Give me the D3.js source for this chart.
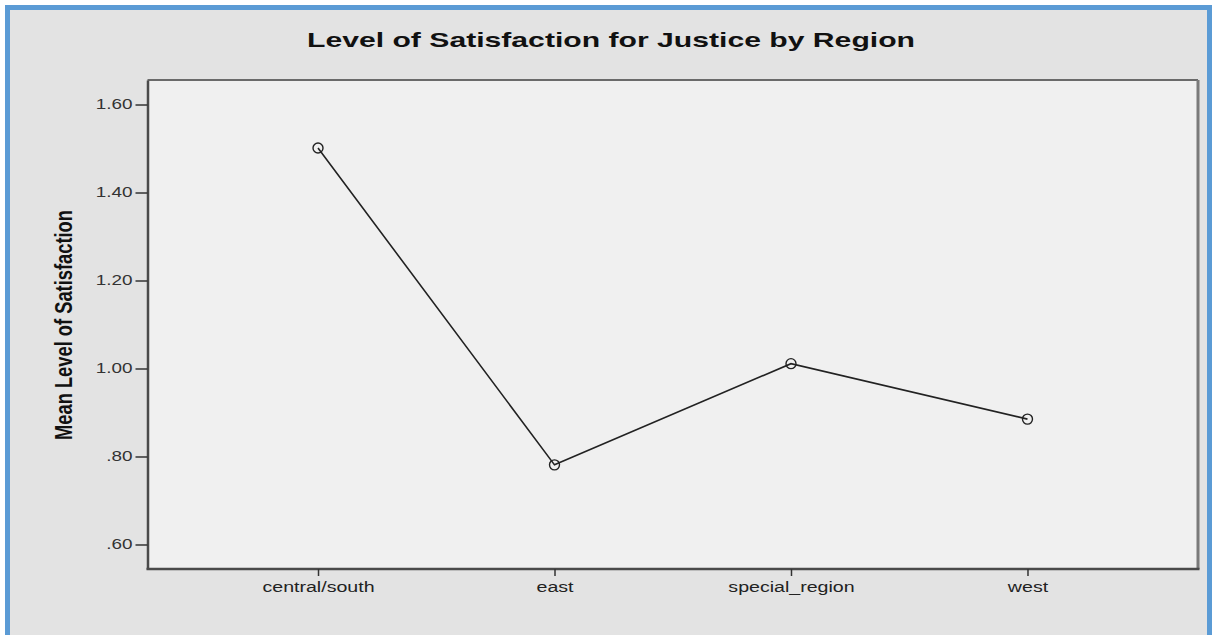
<!DOCTYPE html>
<html>
<head>
<meta charset="utf-8">
<script src="https://cdn.jsdelivr.net/npm/d3@7"></script>
<style>
  body { margin: 0; background: #fff; }
  svg { display: block; }
</style>
</head>
<body>
<svg id="chart" width="1212" height="635"></svg>
<script>
// data
var regions = ["central/south", "east", "special_region", "west"];
var meanSatisfaction = [1.501, 0.781, 1.011, 0.885];
var yTicks = [0.6, 0.8, 1.0, 1.2, 1.4, 1.6];
var yTickLabels = [".60", ".80", "1.00", "1.20", "1.40", "1.60"];

var svg = d3.select("#chart");

// blue frame + grey panel
svg.append("rect").attr("x", 7.5).attr("y", 7.5).attr("width", 1202).attr("height", 640)
  .attr("fill", "#e3e3e3").attr("stroke", "#5b9bd5").attr("stroke-width", 5);

var plot = { left: 147.5, top: 80, right: 1198, bottom: 569 };

var x = d3.scalePoint()
  .domain(regions)
  .range([plot.left, plot.right])
  .padding(0.721);

var y = d3.scaleLinear()
  .domain([0.5443, 1.6557])
  .range([plot.bottom, plot.top]);

// plot background
svg.append("rect")
  .attr("x", plot.left).attr("y", plot.top)
  .attr("width", plot.right - plot.left).attr("height", plot.bottom - plot.top)
  .attr("fill", "#f0f0f0");

// frame: top and right lighter, left and bottom darker
svg.append("line").attr("x1", plot.left).attr("x2", plot.right).attr("y1", plot.top).attr("y2", plot.top)
  .attr("stroke", "#6a6a6a").attr("stroke-width", 2);
svg.append("line").attr("x1", plot.right).attr("x2", plot.right).attr("y1", plot.top).attr("y2", plot.bottom)
  .attr("stroke", "#7a7a7a").attr("stroke-width", 3);

// y axis
var yAxis = d3.axisLeft(y)
  .tickValues(yTicks)
  .tickFormat(function(d, i) { return yTickLabels[i]; })
  .tickSize(12)
  .tickSizeOuter(0);

var yg = svg.append("g")
  .attr("transform", "translate(" + plot.left + ",0)")
  .call(yAxis);
yg.select(".domain").attr("stroke", "#4a4a4a").attr("stroke-width", 2.5);
yg.selectAll(".tick line").attr("stroke", "#333").attr("stroke-width", 1.5).attr("x2", -12);
// labels look horizontally stretched in the original
yg.selectAll(".tick text")
  .attr("x", 0)
  .attr("transform", "translate(-15,0) scale(1.35,1)")
  .attr("fill", "#333")
  .style("font-family", "'Liberation Sans', Arial, sans-serif")
  .style("font-size", "14px");

// x axis
var xAxis = d3.axisBottom(x)
  .tickSize(7)
  .tickPadding(6)
  .tickSizeOuter(0);

var xg = svg.append("g")
  .attr("transform", "translate(0," + plot.bottom + ")")
  .call(xAxis);
xg.select(".domain").attr("stroke", "#4a4a4a").attr("stroke-width", 2.5)
  .attr("d", "M" + (plot.left - 1) + ",0H" + (plot.right + 1.5));
xg.selectAll(".tick line").attr("stroke", "#333").attr("stroke-width", 1.5);
xg.selectAll(".tick text")
  .attr("transform", "scale(1.4,1)")
  .attr("fill", "#222")
  .style("font-family", "'Liberation Sans', Arial, sans-serif")
  .style("font-size", "14px");

// line
var pts = regions.map(function(r, i) { return [x(r), y(meanSatisfaction[i])]; });
svg.append("path")
  .datum(pts)
  .attr("d", d3.line())
  .attr("fill", "none")
  .attr("stroke", "#222")
  .attr("stroke-width", 1.6);

// markers
svg.selectAll("circle.pt")
  .data(pts)
  .enter().append("circle")
  .attr("class", "pt")
  .attr("cx", function(d) { return d[0]; })
  .attr("cy", function(d) { return d[1]; })
  .attr("r", 5)
  .attr("fill", "none")
  .attr("stroke", "#222")
  .attr("stroke-width", 1.4);

// title
svg.append("text")
  .attr("x", 307).attr("y", 47)
  .attr("textLength", 608)
  .attr("lengthAdjust", "spacingAndGlyphs")
  .style("font-family", "'Liberation Sans', Arial, sans-serif")
  .style("font-weight", "bold")
  .style("font-size", "21px")
  .attr("fill", "#111")
  .text("Level of Satisfaction for Justice by Region");

// y label (condensed, tall glyphs)
svg.append("text")
  .attr("transform", "translate(72,440) rotate(-90)")
  .attr("textLength", 230)
  .attr("lengthAdjust", "spacingAndGlyphs")
  .style("font-family", "'Liberation Sans', Arial, sans-serif")
  .style("font-weight", "bold")
  .style("font-size", "23px")
  .attr("fill", "#111")
  .text("Mean Level of Satisfaction");
</script>
</body>
</html>
